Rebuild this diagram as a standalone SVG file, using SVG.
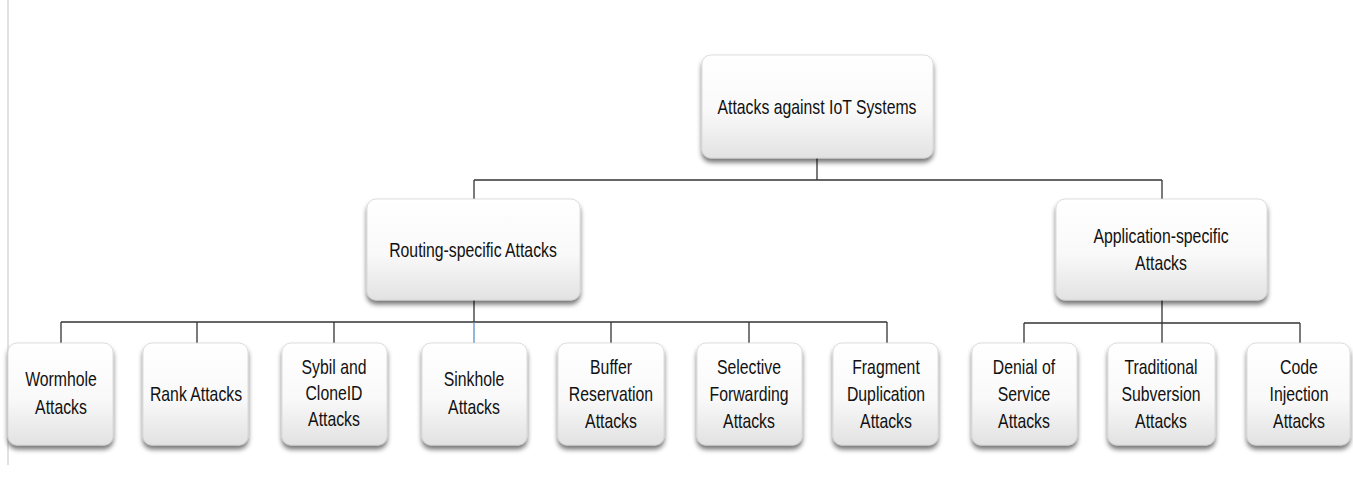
<svg xmlns="http://www.w3.org/2000/svg" width="1353" height="495" viewBox="0 0 1353 495">
<defs>
<linearGradient id="g" x1="0" y1="0" x2="0" y2="1">
<stop offset="0" stop-color="#ffffff"/>
<stop offset="0.55" stop-color="#f9f9f9"/>
<stop offset="1" stop-color="#e2e2e2"/>
</linearGradient>
<filter id="sh" x="-20%" y="-20%" width="140%" height="150%">
<feGaussianBlur in="SourceAlpha" stdDeviation="2.5"/>
<feOffset dx="0" dy="4" result="b"/>
<feComponentTransfer><feFuncA type="linear" slope="0.55"/></feComponentTransfer>
<feMerge><feMergeNode/><feMergeNode in="SourceGraphic"/></feMerge>
</filter>
</defs>
<style>
.box{fill:url(#g);stroke:#d4d4d4;stroke-width:0.8;filter:url(#sh)}
.t{font-family:"Liberation Sans",Arial,sans-serif;font-size:20px;fill:#111;text-anchor:middle}
.c{stroke:#333;stroke-width:1.3;fill:none}
.cb{stroke:#5b8fc7;stroke-width:1.3;fill:none}
</style>
<rect width="1353" height="495" fill="#ffffff"/>
<line x1="8" y1="0" x2="8" y2="465" stroke="#c4c4c4" stroke-width="1"/>
<g id="connectors">
<path class="c" d="M817 158V180M474 180H1162M474 180V199M1162 180V199"/>
<path class="c" d="M474 300V322M61 322H887M61 322V343M197 322V343M334 322V343M611 322V343M749 322V343M887 322V343"/>
<path class="cb" d="M474 322V343"/>
<path class="c" d="M1162 300V343M1024 323H1300M1024 323V343M1300 323V343"/>
</g>
<g id="root"><rect class="box" x="702" y="55" width="231" height="103" rx="9"/><text class="t" transform="matrix(0.79 0 0 1 817 114)">Attacks against IoT Systems</text></g>
<g id="routing"><rect class="box" x="367" y="199" width="213" height="101" rx="9"/><text class="t" transform="matrix(0.79 0 0 1 473 257)">Routing-specific Attacks</text></g>
<g id="application"><rect class="box" x="1056" y="199" width="211" height="101" rx="9"/><text class="t" transform="matrix(0.79 0 0 1 1161 243)">Application-specific</text><text class="t" transform="matrix(0.79 0 0 1 1161 270)">Attacks</text></g>
<g id="wormhole"><rect class="box" x="8" y="343" width="105" height="102" rx="9"/><text class="t" transform="matrix(0.79 0 0 1 61 386)">Wormhole</text><text class="t" transform="matrix(0.79 0 0 1 61 414)">Attacks</text></g>
<g id="rank"><rect class="box" x="143" y="343" width="105" height="102" rx="9"/><text class="t" transform="matrix(0.79 0 0 1 196 401)">Rank Attacks</text></g>
<g id="sybil"><rect class="box" x="282" y="343" width="105" height="102" rx="9"/><text class="t" transform="matrix(0.79 0 0 1 334 374)">Sybil and</text><text class="t" transform="matrix(0.79 0 0 1 334 400)">CloneID</text><text class="t" transform="matrix(0.79 0 0 1 334 426)">Attacks</text></g>
<g id="sinkhole"><rect class="box" x="422" y="343" width="105" height="102" rx="9"/><text class="t" transform="matrix(0.79 0 0 1 474 386)">Sinkhole</text><text class="t" transform="matrix(0.79 0 0 1 474 414)">Attacks</text></g>
<g id="buffer"><rect class="box" x="558" y="343" width="106" height="102" rx="9"/><text class="t" transform="matrix(0.79 0 0 1 611 374)">Buffer</text><text class="t" transform="matrix(0.79 0 0 1 611 401)">Reservation</text><text class="t" transform="matrix(0.79 0 0 1 611 428)">Attacks</text></g>
<g id="selective"><rect class="box" x="697" y="343" width="105" height="102" rx="9"/><text class="t" transform="matrix(0.79 0 0 1 749 374)">Selective</text><text class="t" transform="matrix(0.79 0 0 1 749 401)">Forwarding</text><text class="t" transform="matrix(0.79 0 0 1 749 428)">Attacks</text></g>
<g id="fragment"><rect class="box" x="833" y="343" width="105" height="102" rx="9"/><text class="t" transform="matrix(0.79 0 0 1 886 374)">Fragment</text><text class="t" transform="matrix(0.79 0 0 1 886 401)">Duplication</text><text class="t" transform="matrix(0.79 0 0 1 886 428)">Attacks</text></g>
<g id="dos"><rect class="box" x="972" y="343" width="105" height="102" rx="9"/><text class="t" transform="matrix(0.79 0 0 1 1024 374)">Denial of</text><text class="t" transform="matrix(0.79 0 0 1 1024 401)">Service</text><text class="t" transform="matrix(0.79 0 0 1 1024 428)">Attacks</text></g>
<g id="traditional"><rect class="box" x="1108" y="343" width="107" height="102" rx="9"/><text class="t" transform="matrix(0.79 0 0 1 1161 374)">Traditional</text><text class="t" transform="matrix(0.79 0 0 1 1161 401)">Subversion</text><text class="t" transform="matrix(0.79 0 0 1 1161 428)">Attacks</text></g>
<g id="code"><rect class="box" x="1247" y="343" width="103" height="102" rx="9"/><text class="t" transform="matrix(0.79 0 0 1 1299 374)">Code</text><text class="t" transform="matrix(0.79 0 0 1 1299 401)">Injection</text><text class="t" transform="matrix(0.79 0 0 1 1299 428)">Attacks</text></g>
</svg>
